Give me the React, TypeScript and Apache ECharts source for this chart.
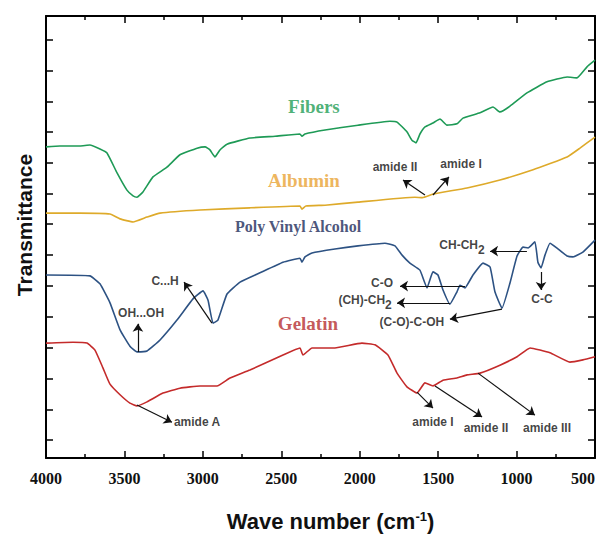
import React, { useEffect, useRef } from "react";
import * as echarts from "echarts";

// x: wave number (cm-1), y: transmittance (arbitrary units, 0-100)
const xTickLabels = [4000, 3500, 3000, 2500, 2000, 1500, 1000, 500];
const yTickValues = [4.1, 11.0, 18.0, 25.0, 31.9, 38.9, 45.9, 52.9, 59.8, 66.8, 73.8, 80.7, 87.7, 94.7];

const fibers: [number, number][] = [
  [4000, 70.4], [3911, 70.6], [3783, 70.6], [3720, 70.8], [3656, 69.9], [3611, 69.0], [3547, 64.5],
  [3484, 60.6], [3445, 59.3], [3420, 59.0], [3382, 60.2], [3318, 63.6], [3229, 65.8], [3146, 68.6],
  [3037, 70.1], [2986, 70.4], [2955, 69.7], [2923, 68.1], [2891, 69.7], [2846, 71.0], [2700, 72.4],
  [2540, 72.8], [2381, 73.3], [2368, 72.8], [2349, 73.3], [2221, 74.2], [2011, 75.3], [1807, 76.2],
  [1762, 76.0], [1699, 73.8], [1667, 71.9], [1641, 71.3], [1616, 73.3], [1584, 74.9], [1533, 75.8],
  [1488, 76.7], [1444, 75.3], [1380, 75.6], [1342, 76.9], [1233, 78.1], [1150, 79.4], [1106, 78.3],
  [1042, 79.6], [934, 82.6], [806, 85.1], [678, 86.2], [615, 86.0], [551, 88.5], [500, 90.0],
];

const albumin: [number, number][] = [
  [4000, 55.4], [3783, 55.4], [3592, 55.2], [3528, 54.1], [3445, 53.4], [3356, 54.5], [3273, 55.4],
  [3018, 56.1], [2700, 56.6], [2381, 57.0], [2368, 56.3], [2343, 57.0], [2221, 57.2], [2011, 57.9],
  [1648, 59.0], [1600, 58.9], [1533, 59.7], [1316, 61.1], [1106, 62.9], [895, 65.2], [678, 68.1],
  [596, 70.1], [500, 72.6],
];

const pva: [number, number][] = [
  [4000, 41.4], [3720, 41.2], [3656, 39.4], [3592, 35.1], [3528, 29.0], [3465, 25.3], [3420, 24.0],
  [3356, 24.2], [3273, 26.7], [3165, 31.2], [3063, 36.0], [2999, 37.8], [2967, 35.7], [2935, 30.5],
  [2904, 31.2], [2846, 37.1], [2763, 39.8], [2636, 41.9], [2489, 44.3], [2381, 45.2], [2368, 44.3],
  [2349, 45.5], [2304, 46.4], [2158, 47.3], [2011, 48.0], [1839, 48.6], [1775, 48.0], [1730, 45.9],
  [1680, 44.1], [1616, 42.5], [1571, 38.5], [1533, 42.1], [1501, 41.4], [1469, 38.0], [1425, 34.8],
  [1380, 37.6], [1361, 39.1], [1329, 38.5], [1278, 41.4], [1214, 44.1], [1169, 43.2], [1138, 37.6],
  [1093, 33.9], [1042, 39.6], [997, 45.7], [959, 47.7], [927, 47.5], [883, 48.9], [864, 44.3],
  [844, 43.0], [819, 45.9], [787, 48.6], [742, 47.5], [678, 45.7], [640, 45.5], [577, 46.6], [500, 49.3],
];

const gelatin: [number, number][] = [
  [4000, 26.0], [3828, 26.2], [3739, 26.0], [3688, 24.4], [3637, 20.4], [3592, 16.7], [3528, 14.3],
  [3465, 12.4], [3420, 11.8], [3356, 12.7], [3254, 14.7], [3146, 15.8], [3018, 16.3], [2955, 16.3],
  [2910, 16.3], [2827, 18.1], [2700, 19.9], [2489, 23.3], [2381, 24.9], [2362, 23.3], [2304, 24.9],
  [2158, 24.9], [1986, 26.0], [1903, 25.6], [1820, 23.3], [1762, 19.2], [1699, 16.1], [1635, 14.7],
  [1584, 17.0], [1533, 16.3], [1469, 17.6], [1380, 18.1], [1316, 18.8], [1233, 19.2], [1106, 21.0],
  [997, 22.9], [914, 24.9], [787, 23.8], [660, 21.7], [577, 22.2], [500, 22.9],
];

// annotation arrows: [from, to] in data coordinates
const arrows: [[number, number], [number, number]][] = [
  [[1584, 59.5], [1724, 62.9]],
  [[1533, 59.5], [1431, 63.6]],
  [[2942, 30.5], [3120, 39.8]],
  [[3414, 24.0], [3414, 30.4]],
  [[3420, 12.0], [3197, 8.1]],
  [[1329, 38.9], [1743, 38.9]],
  [[1425, 35.1], [1762, 35.1]],
  [[1093, 33.7], [1425, 31.4]],
  [[934, 46.8], [1169, 46.8]],
  [[844, 42.1], [844, 38.0]],
  [[1635, 14.9], [1533, 11.3]],
  [[1520, 16.3], [1220, 9.3]],
  [[1246, 19.2], [883, 9.7]],
];

// annotation texts: [x, y, text]
const notes: [number, number, string][] = [
  [1775, 65.8, "amide II"],
  [1354, 66.5, "amide I"],
  [3241, 40.0, "C...H"],
  [3394, 32.8, "OH...OH"],
  [3037, 8.1, "amide A"],
  [1858, 39.6, "C-O"],
  [1966, 35.1, "{a|(CH)-CH}{s|2}"],
  [1667, 30.8, "(C-O)-C-OH"],
  [1348, 47.7, "{a|CH-CH}{s|2}"],
  [838, 36.0, "C-C"],
  [1533, 8.1, "amide I"],
  [1195, 6.8, "amide II"],
  [806, 6.8, "amide III"],
];

// series names: [x, y, text, color, size]
const seriesNames: [number, number, string, string, number][] = [
  [2292, 79.6, "Fibers", "#1f9d55", 19],
  [2355, 62.7, "Albumin", "#e9a233", 19],
  [2393, 52.3, "Poly Vinyl Alcohol", "#1c2a59", 16],
  [2330, 30.5, "Gelatin", "#b52d2f", 19],
];

const SERIF = "'Liberation Serif', 'Times New Roman', serif";
const SANS = "'Liberation Sans', Arial, sans-serif";

export default function App() {
  const ref = useRef<HTMLDivElement>(null);

  useEffect(() => {
    document.body.style.margin = "0";
    if (!ref.current) return;
    const chart = echarts.init(ref.current, undefined, { renderer: "svg" });

    const axisLine = { show: true, onZero: false, lineStyle: { color: "#000", width: 2 } };
    const tickStyle = { color: "#000", width: 1.5 };

    const xBase = {
      type: "value" as const,
      min: 500,
      max: 4000,
      interval: 500,
      inverse: true,
      axisLine,
      axisTick: { show: true, inside: true, length: 7, lineStyle: tickStyle },
      minorTick: { show: true, splitNumber: 2, length: 4, lineStyle: tickStyle },
      splitLine: { show: false },
      minorSplitLine: { show: false },
    };

    const yBase = {
      type: "value" as const,
      min: 0,
      max: 100,
      axisLine,
      axisTick: { show: true, inside: true, length: 7, lineStyle: tickStyle, customValues: yTickValues },
      axisLabel: { show: false },
      splitLine: { show: false },
    };

    const lineSeries = (name: string, data: [number, number][], color: string) => ({
      type: "line" as const,
      name,
      data,
      showSymbol: false,
      symbol: "none",
      smooth: 0.12,
      lineStyle: { color, width: 1.6 },
      silent: true,
      z: 2,
    });

    const noteRich = {
      a: { fontFamily: SANS, fontWeight: "bold", fontSize: 12, color: "#111", verticalAlign: "top", lineHeight: 17 },
      s: { fontFamily: SANS, fontWeight: "bold", fontSize: 12, color: "#111", verticalAlign: "bottom", lineHeight: 17 },
    };

    chart.setOption({
      animation: false,
      grid: { left: 46, right: 7, top: 16, bottom: 76, containLabel: false, outerBoundsMode: "none" },
      xAxis: [
        {
          ...xBase,
          position: "bottom",
          axisLabel: {
            show: true,
            margin: 12,
            fontFamily: SERIF,
            fontWeight: "bold",
            fontSize: 16,
            color: "#111",
            customValues: xTickLabels,
            alignMinLabel: "center",
            alignMaxLabel: "right",
            formatter: (v: number) => String(v),
          },
          name: "{t|Wave number (cm}{sup|-1}{t|)}",
          nameLocation: "middle",
          nameGap: 52,
          nameTextStyle: {
            padding: [0, 0, 0, 20],
            rich: {
              t: { fontFamily: SANS, fontWeight: "bold", fontSize: 22, color: "#111", verticalAlign: "bottom", lineHeight: 22 },
              sup: { fontFamily: SANS, fontWeight: "bold", fontSize: 13, color: "#111", verticalAlign: "top", lineHeight: 22 },
            },
          },
        },
        { ...xBase, position: "top", axisLabel: { show: false } },
      ],
      yAxis: [
        {
          ...yBase,
          position: "left",
          name: "Transmittance",
          nameLocation: "middle",
          nameGap: 11,
          nameTextStyle: {
            fontFamily: SANS,
            fontWeight: "bold",
            fontSize: 21,
            color: "#111",
            padding: [0, 0, 0, 24],
          },
        },
        { ...yBase, position: "right" },
      ],
      series: [
        lineSeries("Fibers", fibers, "#1e9a56"),
        lineSeries("Albumin", albumin, "#deaa2a"),
        lineSeries("Poly Vinyl Alcohol", pva, "#2d5283"),
        lineSeries("Gelatin", gelatin, "#c42b2b"),
        {
          type: "lines",
          coordinateSystem: "cartesian2d",
          xAxisIndex: 0,
          yAxisIndex: 0,
          silent: true,
          symbol: ["none", "arrow"],
          symbolSize: 8,
          lineStyle: { color: "#111", width: 1.2, opacity: 1 },
          data: arrows.map((c) => ({ coords: c })),
          z: 3,
        },
        {
          type: "scatter",
          silent: true,
          symbolSize: 1,
          itemStyle: { color: "rgba(0,0,0,0)" },
          label: {
            show: true,
            position: "inside",
            fontFamily: SANS,
            fontWeight: "bold",
            fontSize: 12,
            color: "#111",
            rich: noteRich,
          },
          data: notes.map(([x, y, t]) => ({ value: [x, y], label: { formatter: t } })),
          z: 4,
        },
        {
          type: "scatter",
          silent: true,
          symbolSize: 1,
          itemStyle: { color: "rgba(0,0,0,0)" },
          label: { show: true, position: "inside", fontFamily: SERIF, fontWeight: "bold" },
          data: seriesNames.map(([x, y, t, c, s]) => ({
            value: [x, y],
            label: { formatter: t, color: c, fontSize: s },
          })),
          z: 4,
        },
      ],
    });

    return () => chart.dispose();
  }, []);

  return <div ref={ref} style={{ width: 602, height: 534 }} />;
}
